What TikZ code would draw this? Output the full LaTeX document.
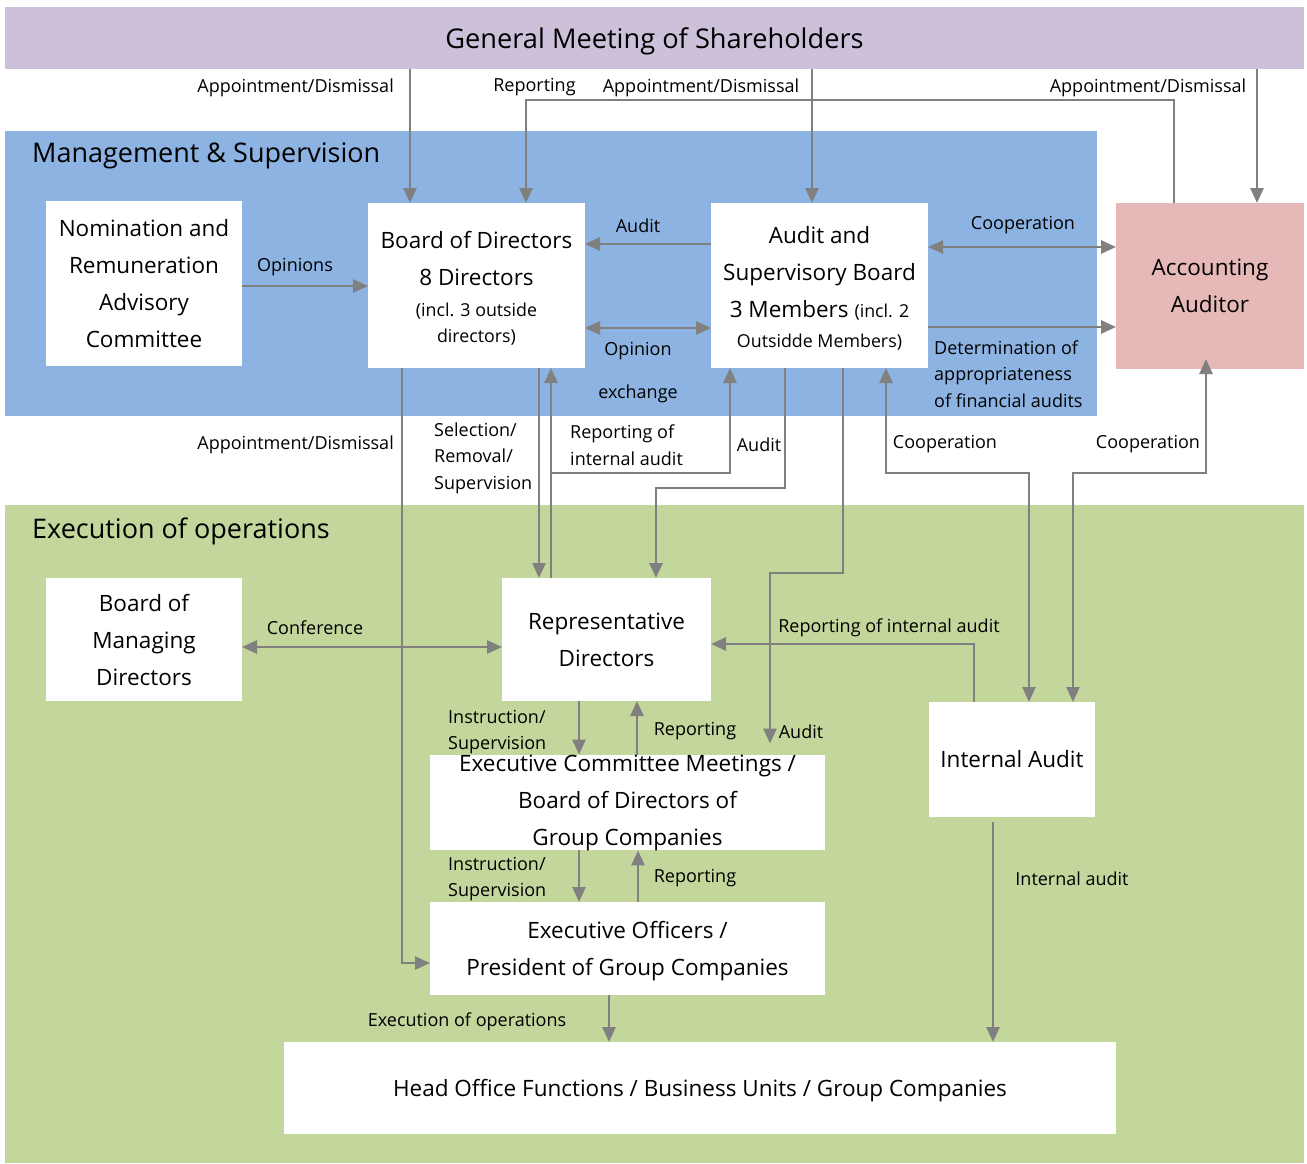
\documentclass[tikz,border=0pt]{standalone}
\usepackage{fontspec}
\setmainfont{Open Sans}
\usetikzlibrary{arrows.meta}
\definecolor{gmpurple}{RGB}{204,192,218}
\definecolor{msblue}{RGB}{141,179,226}
\definecolor{opgreen}{RGB}{195,214,155}
\definecolor{audpink}{RGB}{230,184,183}
\definecolor{linegray}{RGB}{128,128,128}
\newcommand{\smtxt}{\fontsize{17.8}{26}\selectfont}
\newcommand{\dropline}[1]{\raisebox{-3pt}[\height][\depth]{#1}}

\begin{document}
\begin{tikzpicture}[x=1pt,y=-1pt]
		\tikzstyle{area}=[anchor=north west,inner sep=0,outer sep=0]
		\tikzstyle{box}=[fill=white,inner sep=0,outer sep=0,align=center,font=\fontsize{22.5}{37}\selectfont]
		\tikzstyle{lbl}=[inner sep=0,yshift=-2.5pt,font=\fontsize{18}{26.5}\selectfont]
		\tikzstyle{title}=[anchor=west,inner sep=0,yshift=-3pt,font=\fontsize{27}{30}\selectfont]
		\tikzstyle{arr}=[draw=linegray,line width=2.6pt,-{Triangle[length=15pt,width=13pt]}]
		\tikzstyle{both}=[arr,{Triangle[length=15pt,width=13pt]}-{Triangle[length=15pt,width=13pt]}]

		\useasboundingbox[fill=white] (0,0) rectangle (1307,1164);

		\node[area,fill=gmpurple,minimum width=1299pt,minimum height=62pt,font=\fontsize{27.2}{32}\selectfont] (gm) at (5,7) {\dropline{General Meeting of Shareholders}};
		\node[area,fill=msblue,minimum width=1092pt,minimum height=285pt] (ms) at (5,131) {};
		\node[area,fill=opgreen,minimum width=1299pt,minimum height=658pt] (op) at (5,505) {};
		\node[title] (mstitle) at (32,153) {Management \& Supervision};
		\node[title] (optitle) at (32,528) {Execution of operations};

		\node[box,minimum width=196pt,minimum height=165pt] (nrac) at (144,283.5) {Nomination and\\Remuneration\\Advisory\\Committee};
		\node[box,minimum width=217pt,minimum height=165pt] (bod) at (476.5,285.5) {\dropline{Board of Directors}\\\dropline{8 Directors}\\[-6pt]\smtxt\dropline{(incl. 3 outside}\\[-11pt]\smtxt\dropline{directors)}};
		\node[box,minimum width=217pt,minimum height=165pt] (asb) at (819.5,285.5) {\dropline{Audit and}\\\dropline{Supervisory Board}\\\dropline{3 Members {\smtxt (incl. 2}}\\[-7pt]\smtxt\dropline{Outsidde Members)}};
		\node[box,fill=audpink,minimum width=188pt,minimum height=166pt] (aud) at (1210,286) {Accounting\\Auditor};
		\node[box,minimum width=196pt,minimum height=123pt] (bmd) at (144,639.5) {Board of\\Managing\\Directors};
		\node[box,minimum width=209pt,minimum height=123pt] (rd) at (606.5,639.5) {Representative\\Directors};
		\node[box,minimum width=395pt,minimum height=93pt] (ecm) at (627.5,802.5) {Executive Committee Meetings /\\Board of Directors of\\Group Companies};
		\node[box,minimum width=166pt,minimum height=115pt] (ia) at (1012,759.5) {Internal Audit};
		\node[box,minimum width=395pt,minimum height=93pt] (eo) at (627.5,948.5) {\dropline{Executive Officers /}\\\dropline{President of Group Companies}};
		\node[box,minimum width=832pt,minimum height=92pt] (ho) at (700,1088) {\dropline{Head Office Functions / Business Units / Group Companies}};

		\foreach \x/\n in {410/bod,812/asb,1257/aud}
			\path[arr] (gm.south -| \x,0) -- (\n.north -| \x,0);
		\path[arr] (aud.north -| 1174,0) -- ++(0,-103) -| (bod.north -| 526,0);
		\path[arr] (nrac.east |- 0,286) -- (bod.west |- 0,286);
		\path[arr] (asb.west |- 0,244) -- (bod.east |- 0,244);
		\path[both] (bod.east |- 0,328) -- (asb.west |- 0,328);
		\path[both] (asb.east |- 0,247) -- (aud.west |- 0,247);
		\path[arr] (asb.east |- 0,327) -- (aud.west |- 0,327);

		\path[arr] (bod.south -| 402,0) |- (eo.west |- 0,963);
		\path[arr] (bod.south -| 539,0) -- (rd.north -| 539,0);
		\path[arr] (rd.north -| 551,0) -- (bod.south -| 551,0);
		\path[arr] (rd.north -| 551,0) -- ++(0,-105) -| (asb.south -| 730,0);
		\path[arr] (asb.south -| 785,0) -- ++(0,120) -| (rd.north -| 656,0);
		\path[arr,shorten >=11pt] (asb.south -| 843,0) -- ++(0,205) -| (ecm.north -| 770,0);
		\path[both] (asb.south -| 886,0) -- ++(0,105) -| (ia.north -| 1029,0);
		\path[both,shorten <=-10pt] (aud.south -| 1206,0) -- ++(0,104) -| (ia.north -| 1073,0);

		\path[both] (bmd.east |- 0,647) -- (rd.west |- 0,647);
		\path[arr] (ia.north -| 974,0) |- (rd.east |- 0,644);
		\path[arr] (rd.south -| 579,0) -- (ecm.north -| 579,0);
		\path[arr] (ecm.north -| 637,0) -- (rd.south -| 637,0);
		\path[arr] (ecm.south -| 579,0) -- (eo.north -| 579,0);
		\path[arr] (eo.north -| 638,0) -- (ecm.south -| 638,0);
		\path[arr] (eo.south -| 609,0) -- (ho.north -| 609,0);
		\path[arr,shorten <=5pt] (ia.south -| 993,0) -- (ho.north -| 993,0);

		\node[lbl,anchor=east] (l1) at (394,85) {Appointment/Dismissal};
		\node[lbl] (l2) at (534.5,85) {Reporting};
		\node[lbl] (l3) at (701,85) {Appointment/Dismissal};
		\node[lbl] (l4) at (1148,85) {Appointment/Dismissal};
		\node[lbl] (l5) at (295,265) {Opinions};
		\node[lbl] (l6) at (638,223) {Audit};
		\node[lbl,align=center] (l7) at (638,370) {Opinion\\[17pt]exchange};
		\node[lbl] (l8) at (1023,223) {Cooperation};
		\node[lbl,anchor=west,align=left] (l9) at (934,371.5) {Determination of\\appropriateness\\of financial audits};
		\node[lbl,anchor=east] (l10) at (394,442) {Appointment/Dismissal};
		\node[lbl,anchor=west,align=left] (l11) at (434,455.5) {Selection/\\Removal/\\Supervision};
		\node[lbl,anchor=west,align=left] (l12) at (570,442.5) {Reporting of\\internal audit};
		\node[lbl] (l13) at (759,442) {Audit};
		\node[lbl] (l14) at (945,442) {Cooperation};
		\node[lbl] (l15) at (1148,442) {Cooperation};
		\node[lbl] (l16) at (315,625) {Conference};
		\node[lbl] (l17) at (889,625) {Reporting of internal audit};
		\node[lbl,anchor=west,align=left] (l18) at (448,729.5) {Instruction/\\Supervision};
		\node[lbl] (l19) at (695,729) {Reporting};
		\node[lbl] (l20) at (801,729) {Audit};
		\node[lbl,anchor=west,align=left] (l21) at (448,876.5) {Instruction/\\Supervision};
		\node[lbl] (l22) at (695,876) {Reporting};
		\node[lbl] (l23) at (467,1019) {Execution of operations};
		\node[lbl] (l24) at (1072,876) {Internal audit};
	\end{tikzpicture}
\end{document}
